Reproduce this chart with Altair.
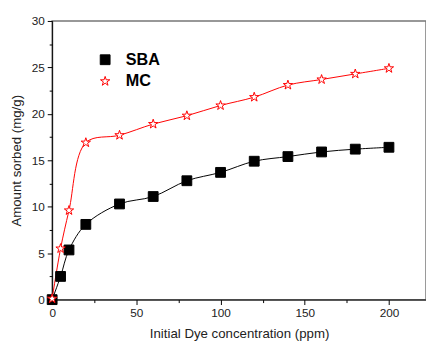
import altair as alt
import pandas as pd

conc = [0, 5, 10, 20, 40, 60, 80, 100, 120, 140, 160, 180, 200]
sba = [0, 2.5, 5.35, 8.1, 10.3, 11.1, 12.8, 13.7, 14.9, 15.4, 15.9, 16.2, 16.4]
mc = [0.1, 5.5, 9.6, 16.9, 17.7, 18.9, 19.8, 20.9, 21.8, 23.1, 23.7, 24.3, 24.9]
series = ["SBA", "MC"]
x_ticks = [0, 25, 50, 75, 100, 125, 150, 175, 200]
y_ticks = [0, 2.5, 5, 7.5, 10, 12.5, 15, 17.5, 20, 22.5, 25, 27.5, 30]

rows = []
for c, v in zip(conc, sba):
    rows.append({"conc": c, "val": v, "series": "SBA"})
for c, v in zip(conc, mc):
    rows.append({"conc": c, "val": v, "series": "MC"})
df = pd.DataFrame(rows)
legend_df = pd.DataFrame({"series": series})

FONT = "Liberation Sans"
STAR = ("M0,-1L0.2245,-0.309L0.951,-0.309L0.363,0.118L0.588,0.809L0,0.382"
        "L-0.588,0.809L-0.363,0.118L-0.951,-0.309L-0.2245,-0.309Z")

x_scale = alt.Scale(domain=[0, 222], nice=False, zero=False)
y_scale = alt.Scale(domain=[0, 30], nice=False)


def color_enc():
    return alt.Color("series:N", scale=alt.Scale(domain=series, range=["black", "red"]), legend=None)


def shape_enc():
    return alt.Shape("series:N", scale=alt.Scale(domain=series, range=["square", STAR]), legend=None)


def fill_enc():
    return alt.Fill("series:N", scale=alt.Scale(domain=series, range=["black", "white"]), legend=None)


y_axis = alt.Axis(
    values=y_ticks,
    labelExpr="datum.value % 5 === 0 ? datum.label : ''",
    tickSize={"condition": {"test": "datum.value % 5 === 0", "value": 5}, "value": 3},
    title="Amount sorbed (mg/g)",
    grid=False,
    domainColor="black",
    tickColor="black",
    labelFontSize=12,
    labelColor="#222",
    labelPadding=3,
    titleFontSize=13.5,
    titleFontWeight="normal",
    titleColor="#222",
    titlePadding=8,
)

x_axis = alt.Axis(
    values=x_ticks,
    labelExpr="datum.value % 50 === 0 ? datum.label : ''",
    tickSize={"condition": {"test": "datum.value % 50 === 0", "value": 5}, "value": 3},
    title="Initial Dye concentration (ppm)",
    grid=False,
    domainColor="black",
    tickColor="black",
    labelFontSize=12,
    labelColor="#222",
    labelPadding=3,
    titleFontSize=13.5,
    titleFontWeight="normal",
    titleColor="#222",
    titlePadding=9,
    labelFlush=False,
)

lines = alt.Chart(df).mark_line(interpolate="catmull-rom", strokeWidth=1).encode(
    x=alt.X("conc:Q", scale=x_scale, axis=x_axis),
    y=alt.Y("val:Q", scale=y_scale, axis=y_axis),
    stroke=alt.Stroke("series:N", scale=alt.Scale(domain=series, range=["black", "red"]), legend=None),
)

points = alt.Chart(df).mark_point(filled=False, size=100, strokeWidth=1, opacity=1).encode(
    x=alt.X("conc:Q", scale=x_scale, axis=x_axis),
    y=alt.Y("val:Q", scale=y_scale, axis=y_axis),
    color=color_enc(),
    shape=shape_enc(),
    fill=fill_enc(),
)

# manual legend (inside the plot, top-left)
legend_layers = []
for name, ypos in zip(series, [39.5, 61.5]):
    base = alt.Chart(legend_df).transform_filter(alt.datum.series == name)
    legend_layers.append(
        base.mark_point(filled=False, size=100, strokeWidth=1, opacity=1).encode(
            x=alt.value(54), y=alt.value(ypos),
            color=color_enc(), shape=shape_enc(), fill=fill_enc(),
        )
    )
    legend_layers.append(
        base.mark_text(align="left", baseline="middle", fontSize=16.5, fontWeight="bold",
                       font=FONT, color="black").encode(
            x=alt.value(75), y=alt.value(ypos), text="series:N",
        )
    )

chart = alt.layer(lines, points, *legend_layers).properties(
    width=381,
    height=284,
    autosize=alt.AutoSizeParams(type="none"),
    padding={"left": 45, "top": 10, "right": 0, "bottom": 42},
).configure(
    font=FONT,
).configure_view(stroke="#777", strokeWidth=1.5).configure_axis(labelFont=FONT, titleFont=FONT)

chart.save("out.html", embed_options={"renderer": "svg", "actions": False})
